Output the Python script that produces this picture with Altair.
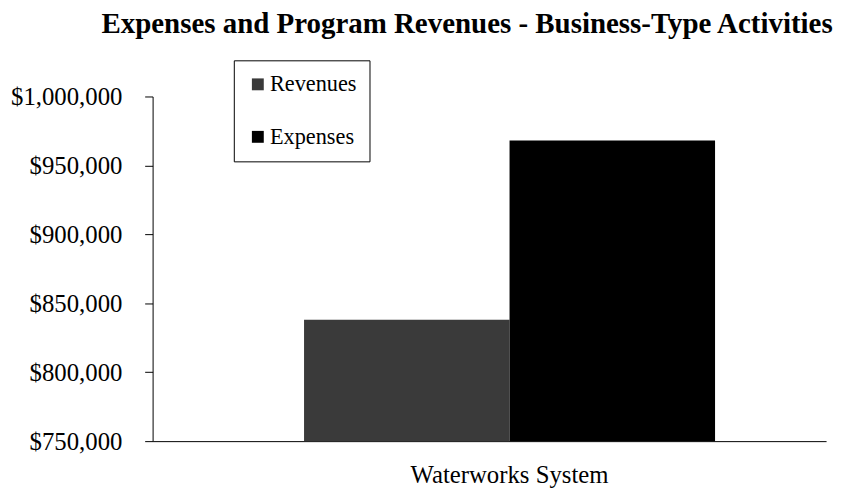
import altair as alt
import pandas as pd

systems = ["Waterworks System", "Waterworks System"]
series = ["Revenues", "Expenses"]
values = [838000, 968000]
y_min = 750000
y_max = 1000000
y_ticks = [750000, 800000, 850000, 900000, 950000, 1000000]

df = pd.DataFrame({"system": systems, "series": series, "value": values})

FONT = "Liberation Serif"

chart = (
    alt.Chart(df)
    .mark_bar(strokeWidth=0)
    .encode(
        x=alt.X(
            "system:N",
            title=None,
            scale=alt.Scale(paddingInner=0, paddingOuter=0.3193, align=0.577),
            axis=alt.Axis(
                labelAngle=0,
                labelFont=FONT,
                labelFontSize=25,
                labelColor="black",
                labelPadding=22,
                labelLimit=0,
                ticks=False,
                domainColor="black",
                domainWidth=1,
            ),
        ),
        xOffset=alt.XOffset(
            "series:N",
            sort=series,
            scale=alt.Scale(paddingInner=0, paddingOuter=0),
        ),
        y=alt.Y(
            "value:Q",
            title=None,
            scale=alt.Scale(domain=[y_min, y_max], nice=False, zero=False),
            axis=alt.Axis(
                values=y_ticks,
                format="$,.0f",
                labelFont=FONT,
                labelFontSize=25,
                labelColor="black",
                labelPadding=23,
                tickSize=8,
                tickColor="black",
                domainColor="black",
                grid=False,
                minExtent=146,
            ),
        ),
        y2=alt.datum(y_min),
        color=alt.Color(
            "series:N",
            sort=series,
            scale=alt.Scale(domain=series, range=["#3a3a3a", "#000000"]),
            legend=alt.Legend(
                title=None,
                orient="none",
                legendX=82,
                legendY=-36.5,
                direction="vertical",
                strokeColor="black",
                fillColor="white",
                padding=13,
                symbolType="square",
                symbolSize=144,
                symbolStrokeWidth=0,
                labelFont=FONT,
                labelFontSize=22.5,
                labelColor="black",
                labelOffset=1,
                rowPadding=30,
            ),
        ),
    )
    .properties(
        width=680,
        height=348,
        background="white",
        padding={"left": 0, "top": 0, "right": 0, "bottom": 0},
        title=alt.TitleParams(
            "Expenses and Program Revenues - Business-Type Activities",
            font=FONT,
            fontSize=29.2,
            fontWeight="bold",
            color="black",
            anchor="middle",
            dx=-22.5,
            dy=-7,
            offset=13.5,
        ),
    )
    .configure_view(strokeWidth=0, stroke=None)
)

chart.save("out.html", embed_options={"renderer": "svg", "actions": False})
